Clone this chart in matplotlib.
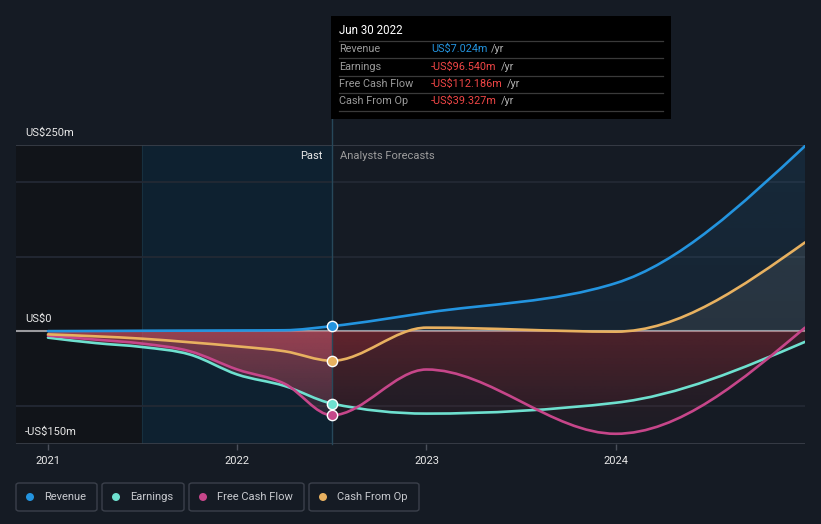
import numpy as np
import matplotlib
matplotlib.use("Agg")
import matplotlib.pyplot as plt
from matplotlib.path import Path
from matplotlib.patches import PathPatch, Rectangle, FancyBboxPatch, Ellipse
from matplotlib.lines import Line2D

plt.rcParams['font.family'] = ['Roboto', 'DejaVu Sans']

# ---------------- data (US$ m; quarterly trailing twelve months, then annual forecasts) ----------------
years = [2021.0, 2021.25, 2021.5, 2021.75, 2022.0, 2022.25, 2022.5, 2023.0, 2024.0, 2025.0]
revenue = [0.3, 0.5, 0.8, 1.0, 1.2, 1.5, 7.024, 25, 64.5, 248]
earnings = [-8.4, -15.6, -21, -31, -57.7, -73, -96.54, -110, -95.5, -14]
free_cash_flow = [-5.7, -11, -16.4, -26.6, -51, -70, -112.186, -51, -137, 5]
cash_from_op = [-4, -6.6, -9.8, -14.6, -20, -26.6, -39.327, 5, -0.4, 119]

series_names = ['Revenue', 'Earnings', 'Free Cash Flow', 'Cash From Op']
series_colors = ['#2394df', '#6ee0cf', '#c6468a', '#e8b160']
tick_years = [2021, 2022, 2023, 2024]
tick_labels = ['2021', '2022', '2023', '2024']
y_labels = {250: 'US$250m', 0: 'US$0', -150: '-US$150m'}
past_end = 2022.5
highlight_start = 2021.497
tooltip_title = 'Jun 30 2022'
tooltip_values = ['US$7.024m', '-US$96.540m', '-US$112.186m', '-US$39.327m']

# ---------------- helpers ----------------
def monotone_path(xs, ys):
    xs = np.asarray(xs, float); ys = np.asarray(ys, float)
    n = len(xs)
    h = np.diff(xs); s = np.diff(ys) / h
    m = np.zeros(n)
    for i in range(1, n - 1):
        s0, s1, h0, h1 = s[i-1], s[i], h[i-1], h[i]
        p = (s0 * h1 + s1 * h0) / (h0 + h1)
        m[i] = (np.sign(s0) + np.sign(s1)) * min(abs(s0), abs(s1), 0.5 * abs(p))
    m[0] = (3 * s[0] - m[1]) / 2
    m[-1] = (3 * s[-1] - m[-2]) / 2
    verts = [(xs[0], ys[0])]
    codes = [Path.MOVETO]
    for i in range(n - 1):
        d = h[i] / 3
        verts += [(xs[i] + d, ys[i] + d * m[i]), (xs[i+1] - d, ys[i+1] - d * m[i+1]), (xs[i+1], ys[i+1])]
        codes += [Path.CURVE4] * 3
    return verts, codes

BG = '#151b24'
W, H = 821, 524
fig = plt.figure(figsize=(W / 100, H / 100), dpi=100, facecolor=BG)
ax_left, ax_right, ax_top, ax_bottom = 16, 805, 144.5, 443.5
ax = fig.add_axes([ax_left / W, 1 - ax_bottom / H, (ax_right - ax_left) / W, (ax_bottom - ax_top) / H])
ax.set_facecolor(BG)
XMIN = 2021 - 32 / 189.33
XMAX = 2025.0
YMIN, YMAX = -150, 250

# background regions
ax.axvspan(XMIN, highlight_start, color='#111419', zorder=0, lw=0)
ax.axvspan(highlight_start, past_end, color='#0e2130', zorder=0, lw=0)
ax.axvline(highlight_start, color='#17303f', lw=0.8, zorder=0.2)

# gridlines
for g in [200, 100, -100]:
    ax.axhline(g, color='#232934', lw=1.3, zorder=0.5)
for g in [250, -150]:
    ax.axhline(g, color='#3c414b', lw=1.2, zorder=0.5)
ax.axhline(0, color='#9a9a9e', lw=1.5, zorder=0.8)

def gradient_img(rgb, a_top, a_bot, x0, x1, y0, y1, clip_patch):
    n = 256
    arr = np.zeros((n, 1, 4))
    arr[:, 0, 0] = rgb[0] / 255; arr[:, 0, 1] = rgb[1] / 255; arr[:, 0, 2] = rgb[2] / 255
    arr[:, 0, 3] = np.linspace(a_bot, a_top, n)  # origin lower: row0 = bottom
    im = ax.imshow(arr, extent=[x0, x1, y0, y1], origin='lower', aspect='auto',
                   interpolation='bilinear', zorder=1)
    im.set_clip_path(clip_patch)
    return im

all_series = [revenue, earnings, free_cash_flow, cash_from_op]
paths = []
for vals in all_series:
    verts, codes = monotone_path(years, vals)
    paths.append((verts, codes))
    fv = verts + [(years[-1], 0), (years[0], 0), (years[0], 0)]
    fc = codes + [Path.LINETO, Path.LINETO, Path.CLOSEPOLY]
    patch = PathPatch(Path(fv, fc), facecolor='none', edgecolor='none', zorder=1)
    ax.add_patch(patch)
    if min(vals) < 0:
        gradient_img((212, 80, 98), 0.32, 0.08, years[0], past_end, -150, 0, patch)
        gradient_img((200, 50, 60), 0.17, 0.03, past_end, years[-1], -150, 0, patch)
    if vals is revenue:
        gradient_img((35, 148, 223), 0.12, 0.08, years[0], years[-1], 0, 250, patch)
    elif max(vals) > 0:
        gradient_img((200, 196, 185), 0.13, 0.10, years[0], years[-1], 0, 250, patch)

# lines
for (verts, codes), col in zip(paths, series_colors):
    ax.add_patch(PathPatch(Path(verts, codes), facecolor='none', edgecolor=col, lw=1.9,
                           zorder=3, capstyle='round', joinstyle='round'))

# markers at the past/forecast boundary
idx = years.index(past_end)
for vals, col in zip(all_series, series_colors):
    ax.scatter([past_end], [vals[idx]], s=55, color=col, edgecolor='white', linewidth=1.0, zorder=5)

# past / forecast divider
ax.axvline(past_end, ymin=0, ymax=1 + (ax_top - 119) / (ax_bottom - ax_top), color='#27485a',
           lw=1.0, zorder=2, clip_on=False)
ax.annotate('Past', xy=(past_end, 250), xytext=(-6.5, -8), textcoords='offset points',
            ha='right', va='center', color='#e8e8e8', fontsize=8)
ax.annotate('Analysts Forecasts', xy=(past_end, 250), xytext=(6, -8), textcoords='offset points',
            ha='left', va='center', color='#9c9c9c', fontsize=8)

# y labels
for v, lab in y_labels.items():
    ax.annotate(lab, xy=((25 - ax_left) / (ax_right - ax_left), v), xycoords=('axes fraction', 'data'),
                xytext=(0, 8.7), textcoords='offset points', ha='left', va='center',
                color='#e8e8e8', fontsize=8)

ax.set_xlim(XMIN, XMAX)
ax.set_ylim(YMIN, YMAX)
ax.set_xticks(tick_years)
ax.set_xticklabels(tick_labels)
ax.set_yticks([])
ax.tick_params(axis='x', length=4, width=1, color='#4a4f5a', pad=5, labelcolor='#e8e8e8', labelsize=8)
for sp in ax.spines.values():
    sp.set_visible(False)

# ---------------- tooltip ----------------
def fx(px): return px / W
def fy(py): return 1 - py / H

fig.add_artist(Rectangle((fx(331), fy(119)), fx(671) - fx(331), fy(16) - fy(119),
                         transform=fig.transFigure, facecolor='black', edgecolor='none', zorder=10))
fig.text(fx(339), fy(31), tooltip_title, color='white', fontsize=8.3, va='center', ha='left', zorder=11)
for sy in [41, 58.3, 76, 93.3, 111.3]:
    fig.add_artist(Line2D([fx(339), fx(663)], [fy(sy), fy(sy)], transform=fig.transFigure,
                          color='#3a3a3a', lw=0.9, zorder=11))
row_y = [49, 66.7, 84.3, 101]
renderer = fig.canvas.get_renderer()
for name, val, ry in zip(series_names, tooltip_values, row_y):
    fig.text(fx(339), fy(ry), name, color='#9a9a9a', fontsize=7.8, va='center', ha='left', zorder=11)
    vcol = '#2394df' if not val.startswith('-') else '#f04646'
    t = fig.text(fx(431), fy(ry), val, color=vcol, fontsize=7.8, va='center', ha='left', zorder=11)
    bb = t.get_window_extent(renderer=renderer)
    fig.text(fx(bb.x1 + 4), fy(ry), '/yr', color='#b0b0b0', fontsize=7.8, va='center', ha='left', zorder=11)

# ---------------- legend ----------------
legend_boxes = [(16, 97), (102, 184), (189, 304), (309, 419)]
for (x0, x1), name, col in zip(legend_boxes, series_names, series_colors):
    fig.add_artist(FancyBboxPatch((fx(x0), fy(511)), fx(x1) - fx(x0), fy(483) - fy(511),
                                  boxstyle='round,pad=0,rounding_size=0.004', transform=fig.transFigure,
                                  facecolor='none', edgecolor='#3b404b', lw=1.0))
    fig.add_artist(Ellipse((fx(x0 + 14), fy(497)), 8 / W, 8 / H, transform=fig.transFigure,
                           facecolor=col, edgecolor='none'))
    fig.text(fx(x0 + 28), fy(497), name, color='#c8cacf', fontsize=8, va='center', ha='left')

fig.savefig('out.png', dpi=100, facecolor=BG)
